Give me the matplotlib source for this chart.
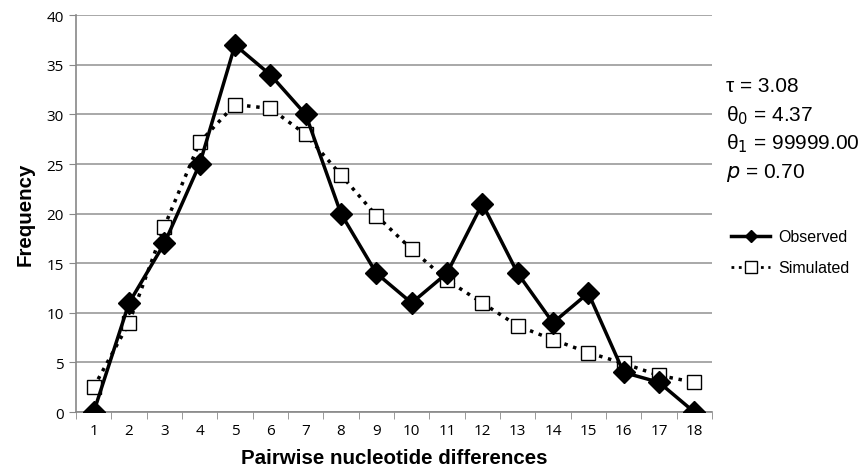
import matplotlib.pyplot as plt
from matplotlib.lines import Line2D

# pairwise differences (categories)
diffs = list(range(1, 19))
observed = [0, 11, 17, 25, 37, 34, 30, 20, 14, 11, 14, 21, 14, 9, 12, 4, 3, 0]
simulated = [2.5, 9, 18.7, 27.2, 31, 30.6, 28, 23.9, 19.8, 16.4, 13.3, 11, 8.7, 7.3, 6, 4.9, 3.7, 3]
yticks = [0, 5, 10, 15, 20, 25, 30, 35, 40]

fig = plt.figure(figsize=(8.64, 4.77), dpi=100)
ax = fig.add_axes([0.088, 0.134, 0.736, 0.832])

ax.plot(diffs, simulated, linestyle=':', color='black', linewidth=2.5,
        marker='s', markersize=10, markerfacecolor='white',
        markeredgecolor='black', markeredgewidth=1.0, zorder=3)
ax.plot(diffs, observed, linestyle='-', color='black', linewidth=2.5,
        marker='D', markersize=11.5, markerfacecolor='black', zorder=4)

ax.set_xlim(0.5, 18.5)
ax.set_ylim(0, 40)
ax.set_yticks(yticks)
ax.set_xticks(diffs)
ax.set_xticks([d + 0.5 for d in range(0, 19)], minor=True)
for lab in ax.get_xticklabels() + ax.get_yticklabels():
    lab.set_family('Open Sans')
ax.tick_params(axis='x', which='major', length=0, pad=8, labelsize=11)
ax.tick_params(axis='x', which='minor', length=5, color='#888888', direction='out')
ax.tick_params(axis='y', length=5, color='#888888', labelsize=11, pad=4)

ax.grid(axis='y', color='#9a9a9a', linewidth=1.2)
ax.set_axisbelow(True)
for s in ['top', 'right']:
    ax.spines[s].set_visible(False)
for s in ['left', 'bottom']:
    ax.spines[s].set_color('#888888')
    ax.spines[s].set_linewidth(1.2)

ax.set_xlabel('Pairwise nucleotide differences', fontsize=14.8, fontweight='bold',
              family='Liberation Sans', labelpad=7)
ax.set_ylabel('Frequency', fontsize=14.8, fontweight='bold',
              family='Liberation Sans', labelpad=8)

stats = ['τ = 3.08', 'θ$_0$ = 4.37', 'θ$_1$ = 99999.00', '$p$ = 0.70']
for i, s in enumerate(stats):
    fig.text(0.840, 0.818 - i * 0.06, s, fontsize=15, family='Liberation Sans',
             va='center', ha='left')

handles = [
    Line2D([], [], color='black', linewidth=2.5, marker='D', markersize=6),
    Line2D([], [], color='black', linewidth=2, linestyle=':', marker='s',
           markersize=9, markerfacecolor='white', markeredgewidth=1.0),
]
fig.legend(handles, ['Observed', 'Simulated'], loc='center left',
           bbox_to_anchor=(0.830, 0.469), frameon=False,
           handlelength=2.4, handletextpad=0.55, labelspacing=1.0,
           prop={'family': 'Liberation Sans', 'size': 11.5})

fig.savefig('out.png', dpi=100)
